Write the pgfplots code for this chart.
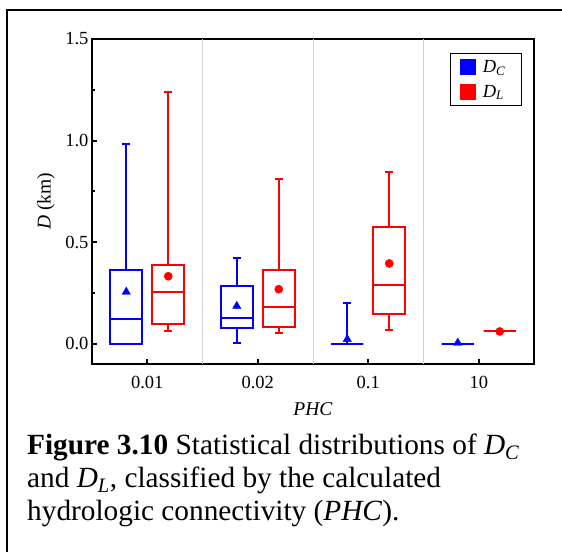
\documentclass[border=0pt]{standalone}
\usepackage{pgfplots}
\pgfplotsset{compat=1.18}
\usepgfplotslibrary{statistics}
\usepackage{fontspec}
\setmainfont{Liberation Serif}

\definecolor{cBlue}{RGB}{0,0,255}
\definecolor{cRed}{RGB}{255,0,0}

\pgfplotsset{
  bxC/.style={forget plot, draw=cBlue, line width=2bp, solid, mark=none},
  bxL/.style={forget plot, draw=cRed, line width=2bp, solid, mark=none},
}

\begin{document}
\begin{tikzpicture}[x=1bp,y=1bp]
\useasboundingbox (0,0) rectangle (562,552);
% frame around figure and caption
\draw[line width=2bp] (7,-5) -- (7,542) -- (570,542);

\begin{axis}[
  at={(92bp,188bp)}, anchor=south west,
  scale only axis, width=442bp, height=325bp,
  xmin=-0.5, xmax=3.5, ymin=-0.1, ymax=1.5,
  boxplot/draw direction=y,
  axis line style={line width=2.8bp},
  tick align=inside,
  major tick length=5bp, minor tick length=3bp,
  tick style={line width=2bp, black},
  xtick pos=bottom, ytick pos=left,
  xtick={0,1,2,3}, xticklabels={0.01,0.02,0.1,10},
  ytick={0,0.5,1,1.5}, minor ytick={0.25,0.75,1.25},
  extra x ticks={0.5,1.5,2.5}, extra x tick labels={},
  extra x tick style={grid=major, major tick length=0pt,
    grid style={draw=black!18, line width=1bp}},
  /pgf/number format/assume math mode=true,
  yticklabel style={/pgf/number format/.cd, fixed, fixed zerofill, precision=1},
  ticklabel style={font=\fontsize{18.5bp}{20bp}\selectfont},
  xticklabel style={yshift=-9bp},
  xlabel={\textit{PHC}},
  xlabel style={at={(axis description cs:0.5,-0.14)}, anchor=center,
    font=\fontsize{19.5bp}{21bp}\selectfont},
  ylabel={\textit{D} (km)},
  ylabel style={at={(axis description cs:-0.104,0.5)}, anchor=center,
    font=\fontsize{19.5bp}{21bp}\selectfont},
  legend style={at={(rel axis cs:0.973,0.957)}, anchor=north east,
    draw=black, line width=1.2bp, inner xsep=9bp, inner ysep=3bp,
    row sep=3bp, nodes={inner xsep=7bp, inner ysep=4bp},
    font=\fontsize{18.5bp}{20bp}\selectfont},
  legend cell align=left,
]
\addlegendimage{legend image code/.code={\fill[cBlue] (0bp,-7.5bp) rectangle (15bp,7.5bp);}}
\addlegendentry{\textit{D}\textsubscript{\textit{C}}}
\addlegendimage{legend image code/.code={\fill[cRed] (0bp,-7.5bp) rectangle (15bp,7.5bp);}}
\addlegendentry{\textit{D}\textsubscript{\textit{L}}}

% PHC = 0.01
\addplot[bxC, boxplot prepared={draw position=-0.19, lower whisker=0, lower quartile=0,
  median=0.12, upper quartile=0.363, upper whisker=0.985, box extend=0.29, whisker extend=0.07}] coordinates {};
\addplot[bxL, boxplot prepared={draw position=0.19, lower whisker=0.063, lower quartile=0.095,
  median=0.253, upper quartile=0.385, upper whisker=1.24, box extend=0.29, whisker extend=0.07}] coordinates {};
% PHC = 0.02
\addplot[bxC, boxplot prepared={draw position=0.81, lower whisker=0.005, lower quartile=0.075,
  median=0.128, upper quartile=0.283, upper whisker=0.42, box extend=0.29, whisker extend=0.07}] coordinates {};
\addplot[bxL, boxplot prepared={draw position=1.19, lower whisker=0.055, lower quartile=0.083,
  median=0.183, upper quartile=0.363, upper whisker=0.81, box extend=0.29, whisker extend=0.07}] coordinates {};
% PHC = 0.1
\addplot[bxC, boxplot prepared={draw position=1.81, lower whisker=0, lower quartile=0,
  median=0, upper quartile=0, upper whisker=0.202, box extend=0.29, whisker extend=0.07}] coordinates {};
\addplot[bxL, boxplot prepared={draw position=2.19, lower whisker=0.065, lower quartile=0.145,
  median=0.287, upper quartile=0.573, upper whisker=0.845, box extend=0.29, whisker extend=0.07}] coordinates {};
% PHC = 10
\addplot[bxC, boxplot prepared={draw position=2.81, lower whisker=0, lower quartile=0,
  median=0, upper quartile=0, upper whisker=0, box extend=0.29, whisker extend=0.07}] coordinates {};
\addplot[bxL, boxplot prepared={draw position=3.19, lower whisker=0.06, lower quartile=0.06,
  median=0.06, upper quartile=0.06, upper whisker=0.06, box extend=0.29, whisker extend=0.07}] coordinates {};

% means
\addplot[forget plot, only marks, mark=triangle*, cBlue, mark size=4.8bp]
  coordinates {(-0.19,0.255) (0.81,0.185) (1.81,0.022) (2.81,0.004)};
\addplot[forget plot, only marks, mark=*, cRed, mark size=4.1bp]
  coordinates {(0.19,0.332) (1.19,0.268) (2.19,0.395) (3.19,0.06)};
\end{axis}

\node[anchor=north west, inner sep=0pt, align=left,
  font=\fontsize{29.3bp}{33bp}\selectfont] at (27,552-434)
  {\textbf{Figure 3.10} Statistical distributions of \textit{D}\textsubscript{\textit{C}}\\
   and \textit{D}\textsubscript{\textit{L}}, classified by the calculated\\
   hydrologic connectivity (\textit{PHC}).};
\end{tikzpicture}
\end{document}
